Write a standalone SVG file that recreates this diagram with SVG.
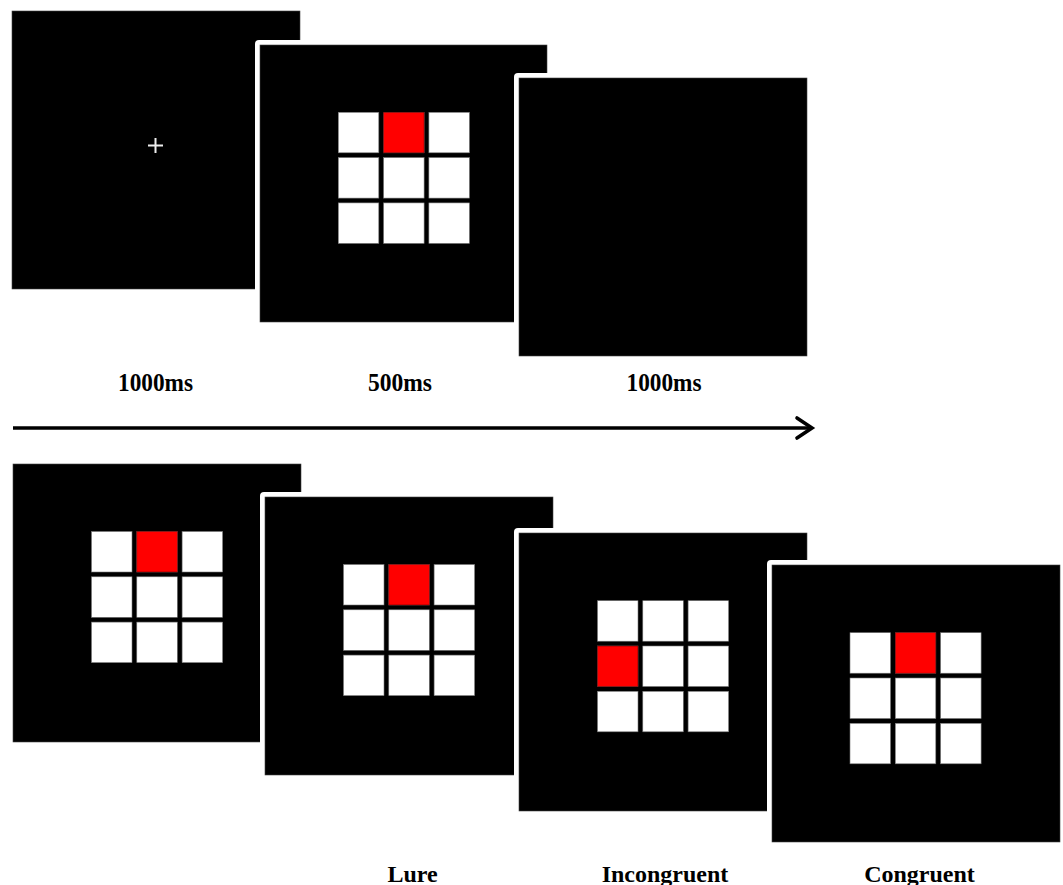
<svg xmlns="http://www.w3.org/2000/svg" xmlns:xlink="http://www.w3.org/1999/xlink" width="1063" height="885" viewBox="0 0 1063 885">
<style>
.panel{fill:#000;stroke:#444;stroke-width:0.6}
.halo{fill:#fff}
.cell{fill:#fff;stroke:#777;stroke-width:0.6}
.red{fill:#ff0000;stroke:#600;stroke-width:0.6}
.lbl{font-family:"Liberation Serif","Times New Roman",serif;font-weight:bold;font-size:24px;fill:#000;text-anchor:middle}
.tl{font-size:26px}
.conn{stroke:#000;stroke-width:3.6;fill:none}
</style>
<defs>
<g id="grid">
<rect class="cell" x="0" y="0" width="40.5" height="40.5"/>
<rect class="cell" x="45.3" y="0" width="40.5" height="40.5"/>
<rect class="cell" x="90.6" y="0" width="40.5" height="40.5"/>
<rect class="cell" x="0" y="45.3" width="40.5" height="40.5"/>
<rect class="cell" x="45.3" y="45.3" width="40.5" height="40.5"/>
<rect class="cell" x="90.6" y="45.3" width="40.5" height="40.5"/>
<rect class="cell" x="0" y="90.6" width="40.5" height="40.5"/>
<rect class="cell" x="45.3" y="90.6" width="40.5" height="40.5"/>
<rect class="cell" x="90.6" y="90.6" width="40.5" height="40.5"/>
</g>
</defs>
<rect width="1063" height="885" fill="#fff"/>

<g id="panel-fixation">
<rect class="panel" x="12" y="11" width="288" height="278"/>
<path d="M148 145.5H163M155.5 138V153" stroke="#eee" stroke-width="2"/>
</g>

<g id="panel-stimulus">
<rect class="halo" x="255" y="40" width="297" height="287" rx="4"/>
<rect class="panel" x="260" y="45" width="287" height="277"/>
<use xlink:href="#grid" x="338.3" y="112.3"/>
<rect class="red" x="383.6" y="112.3" width="40.5" height="40.5"/>
</g>

<g id="panel-blank">
<rect class="halo" x="514" y="73" width="298" height="288" rx="4"/>
<rect class="panel" x="519" y="78" width="288" height="278"/>
</g>

<g id="label-1000ms-a"><text class="lbl tl" x="155.5" y="391" textLength="75" lengthAdjust="spacingAndGlyphs">1000ms</text></g>
<g id="label-500ms"><text class="lbl tl" x="400" y="391" textLength="64" lengthAdjust="spacingAndGlyphs">500ms</text></g>
<g id="label-1000ms-b"><text class="lbl tl" x="664" y="391" textLength="75" lengthAdjust="spacingAndGlyphs">1000ms</text></g>

<g id="connectors">
<line class="conn" x1="13" y1="428" x2="810" y2="428"/>
<polyline class="conn" points="797,418 812,428 797,438" stroke-linecap="round" stroke-linejoin="miter"/>
</g>

<g id="panel-target">
<rect class="panel" x="13" y="464" width="288" height="278"/>
<use xlink:href="#grid" x="91.5" y="531.5"/>
<rect class="red" x="136.8" y="531.5" width="40.5" height="40.5"/>
</g>

<g id="panel-lure">
<rect class="halo" x="260" y="492" width="298" height="288" rx="4"/>
<rect class="panel" x="265" y="497" width="288" height="278"/>
<use xlink:href="#grid" x="343.5" y="564.5"/>
<rect class="red" x="388.8" y="564.5" width="40.5" height="40.5"/>
</g>

<g id="panel-incongruent">
<rect class="halo" x="514" y="528" width="298" height="288" rx="4"/>
<rect class="panel" x="519" y="533" width="288" height="278"/>
<use xlink:href="#grid" x="597.5" y="600.7"/>
<rect class="red" x="597.5" y="646" width="40.5" height="40.5"/>
</g>

<g id="panel-congruent">
<rect class="halo" x="767" y="560" width="298" height="287" rx="4"/>
<rect class="panel" x="772" y="565" width="288" height="277"/>
<use xlink:href="#grid" x="850" y="632.7"/>
<rect class="red" x="895.3" y="632.7" width="40.5" height="40.5"/>
</g>

<g id="label-lure"><text class="lbl" x="412.5" y="882">Lure</text></g>
<g id="label-incongruent"><text class="lbl" x="665" y="882">Incongruent</text></g>
<g id="label-congruent"><text class="lbl" x="919.5" y="882">Congruent</text></g>
</svg>
